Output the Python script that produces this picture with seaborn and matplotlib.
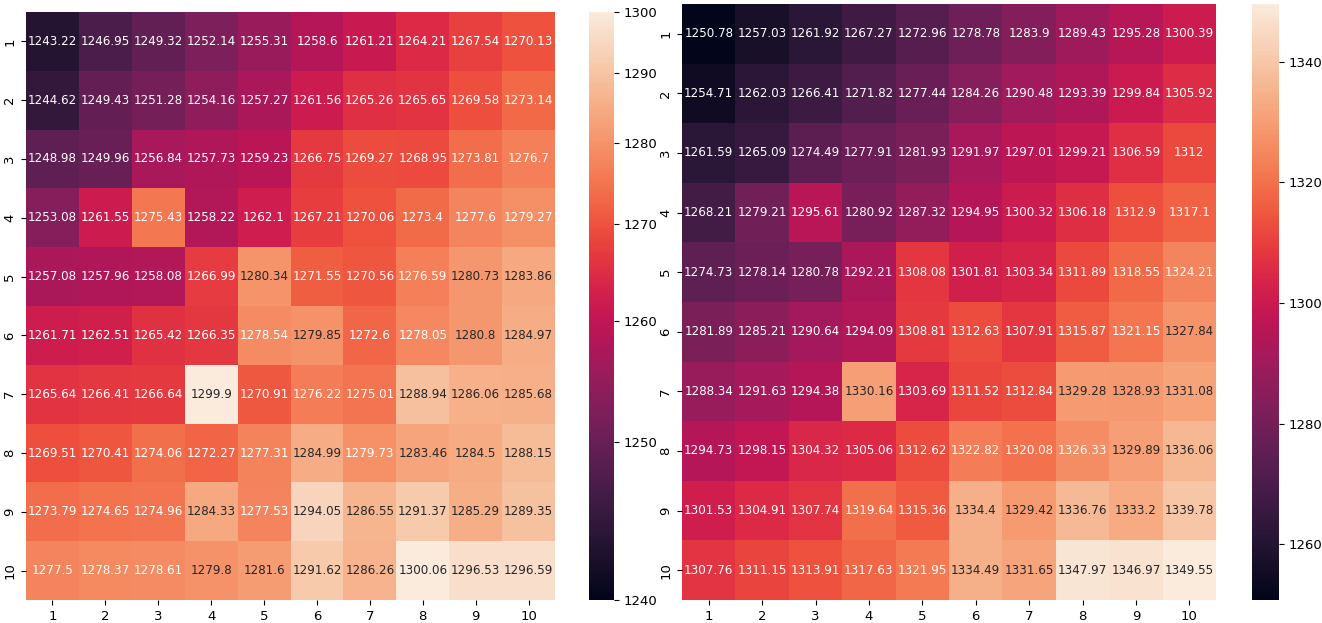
import numpy as np
import pandas as pd
import matplotlib
matplotlib.use("Agg")
import matplotlib.pyplot as plt
from matplotlib.colors import FuncNorm
import seaborn as sns

labels = [1, 2, 3, 4, 5, 6, 7, 8, 9, 10]

# left grid
left_values = [
    [1243.22, 1246.95, 1249.32, 1252.14, 1255.31, 1258.6, 1261.21, 1264.21, 1267.54, 1270.13],
    [1244.62, 1249.43, 1251.28, 1254.16, 1257.27, 1261.56, 1265.26, 1265.65, 1269.58, 1273.14],
    [1248.98, 1249.96, 1256.84, 1257.73, 1259.23, 1266.75, 1269.27, 1268.95, 1273.81, 1276.7],
    [1253.08, 1261.55, 1275.43, 1258.22, 1262.1, 1267.21, 1270.06, 1273.4, 1277.6, 1279.27],
    [1257.08, 1257.96, 1258.08, 1266.99, 1280.34, 1271.55, 1270.56, 1276.59, 1280.73, 1283.86],
    [1261.71, 1262.51, 1265.42, 1266.35, 1278.54, 1279.85, 1272.6, 1278.05, 1280.8, 1284.97],
    [1265.64, 1266.41, 1266.64, 1299.9, 1270.91, 1276.22, 1275.01, 1288.94, 1286.06, 1285.68],
    [1269.51, 1270.41, 1274.06, 1272.27, 1277.31, 1284.99, 1279.73, 1283.46, 1284.5, 1288.15],
    [1273.79, 1274.65, 1274.96, 1284.33, 1277.53, 1294.05, 1286.55, 1291.37, 1285.29, 1289.35],
    [1277.5, 1278.37, 1278.61, 1279.8, 1281.6, 1291.62, 1286.26, 1300.06, 1296.53, 1296.59],
]
left_ticks = [1240, 1250, 1260, 1270, 1280, 1290, 1300]

# right grid
right_values = [
    [1250.78, 1257.03, 1261.92, 1267.27, 1272.96, 1278.78, 1283.9, 1289.43, 1295.28, 1300.39],
    [1254.71, 1262.03, 1266.41, 1271.82, 1277.44, 1284.26, 1290.48, 1293.39, 1299.84, 1305.92],
    [1261.59, 1265.09, 1274.49, 1277.91, 1281.93, 1291.97, 1297.01, 1299.21, 1306.59, 1312],
    [1268.21, 1279.21, 1295.61, 1280.92, 1287.32, 1294.95, 1300.32, 1306.18, 1312.9, 1317.1],
    [1274.73, 1278.14, 1280.78, 1292.21, 1308.08, 1301.81, 1303.34, 1311.89, 1318.55, 1324.21],
    [1281.89, 1285.21, 1290.64, 1294.09, 1308.81, 1312.63, 1307.91, 1315.87, 1321.15, 1327.84],
    [1288.34, 1291.63, 1294.38, 1330.16, 1303.69, 1311.52, 1312.84, 1329.28, 1328.93, 1331.08],
    [1294.73, 1298.15, 1304.32, 1305.06, 1312.62, 1322.82, 1320.08, 1326.33, 1329.89, 1336.06],
    [1301.53, 1304.91, 1307.74, 1319.64, 1315.36, 1334.4, 1329.42, 1336.76, 1333.2, 1339.78],
    [1307.76, 1311.15, 1313.91, 1317.63, 1321.95, 1334.49, 1331.65, 1347.97, 1346.97, 1349.55],
]

df_left = pd.DataFrame(left_values, index=labels, columns=labels)
df_right = pd.DataFrame(right_values, index=labels, columns=labels)

W, H = 1322, 623
fig = plt.figure(figsize=(W / 100, H / 100), dpi=100)


def box(x0, y0, x1, y1):
    # pixel box -> figure fraction
    return [x0 / W, 1 - y1 / H, (x1 - x0) / W, (y1 - y0) / H]


ax1 = fig.add_axes(box(26, 12, 555, 600))
cax1 = fig.add_axes(box(589, 12, 614, 600))
ax2 = fig.add_axes(box(682, 4, 1216, 600))
cax2 = fig.add_axes(box(1252, 4, 1279, 600))

# left colour scale is not linear (log-like), so use a FuncNorm
shift = 1213
norm = FuncNorm((lambda v: np.log(v - shift), lambda v: np.exp(v) + shift),
                vmin=1240, vmax=1300)

annot_style = {'size': 8.6}
sns.heatmap(df_left, annot=True, fmt='g', norm=norm, ax=ax1, cbar_ax=cax1,
            cbar_kws={'ticks': left_ticks}, annot_kws=annot_style)
sns.heatmap(df_right, annot=True, fmt='g', ax=ax2, cbar_ax=cax2,
            annot_kws=annot_style)

for a in (ax1, ax2, cax1, cax2):
    a.tick_params(labelsize=9.5)

fig.savefig('out.png', dpi=100)
